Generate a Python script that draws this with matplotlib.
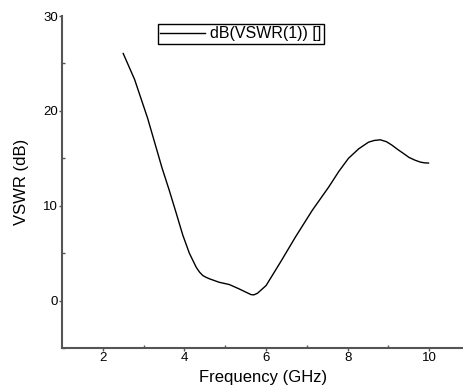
import matplotlib.pyplot as plt

plt.rcParams["font.family"] = ["Liberation Sans", "DejaVu Sans"]

freq_ghz = [2.50, 2.78, 3.10, 3.45, 3.63, 3.80, 3.96, 4.12, 4.29, 4.37, 4.45, 4.53,
            4.61, 4.85, 5.10, 5.34, 5.50, 5.63, 5.70, 5.79, 6.00, 6.16, 6.36, 6.72,
            7.13, 7.54, 7.78, 8.02, 8.27, 8.51, 8.65, 8.80, 8.95, 9.08, 9.22, 9.37,
            9.50, 9.65, 9.78, 9.88, 9.98]
vswr_db = [26.05, 23.3, 19.2, 14.0, 11.6, 9.2, 6.9, 5.0, 3.5, 3.0, 2.64, 2.45,
           2.3, 1.93, 1.69, 1.23, 0.9, 0.63, 0.6, 0.77, 1.58, 2.7, 4.1, 6.7,
           9.5, 12.0, 13.6, 15.0, 16.0, 16.7, 16.88, 16.95, 16.75, 16.4, 15.95, 15.5,
           15.1, 14.8, 14.6, 14.52, 14.5]

fig = plt.figure(figsize=(4.64, 3.91), dpi=100)
ax = fig.add_axes([0.1336, 0.110, 0.8664, 0.849])

ax.plot(freq_ghz, vswr_db, color="black", linewidth=1.0, label="dB(VSWR(1)) []")

ax.set_xlim(1, 10.85)
ax.set_ylim(-5, 30)
ax.set_xticks([2, 4, 6, 8, 10])
ax.set_xticks([3, 5, 7, 9], minor=True)
ax.set_yticks([0, 10, 20, 30])
ax.set_yticks([-5, 5, 15, 25], minor=True)

for side in ("top", "right"):
    ax.spines[side].set_visible(False)
for side in ("left", "bottom"):
    ax.spines[side].set_color("#555555")
    ax.spines[side].set_linewidth(1.5)

ax.tick_params(axis="both", which="major", length=2, width=1, color="#555555",
               labelsize=9.5, pad=1)
ax.tick_params(axis="both", which="minor", length=2, width=1, color="#555555",
               direction="in")

ax.set_xlabel("Frequency (GHz)", fontsize=12, labelpad=4)
ax.set_ylabel("VSWR (dB)", fontsize=12, labelpad=10)

ax.legend(loc="upper center", bbox_to_anchor=(0.519, 0.9386),
          bbox_transform=fig.transFigure, borderaxespad=0, fancybox=False,
          edgecolor="black", framealpha=1, fontsize=11.5, handlelength=2.8,
          handletextpad=0.3, borderpad=0.15)
ax.get_legend().get_frame().set_linewidth(1.0)

fig.savefig("out.png", dpi=100)
